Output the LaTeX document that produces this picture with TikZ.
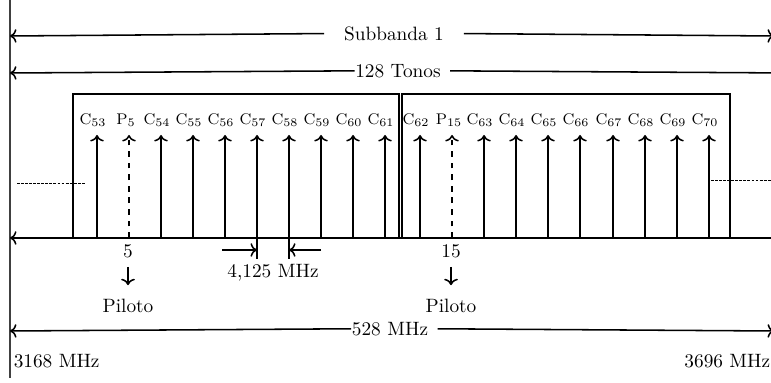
\documentclass[tikz,border=0pt]{standalone}
\usepackage{amsmath}
\usepackage{tikz}
\usetikzlibrary{arrows.meta,calc,positioning}

\begin{document}
\begin{tikzpicture}[x=0.518pt,y=-0.518pt,thick,
  carrier/.style={->},
  pilot/.style={->,dashed},
  lab/.style={font=\footnotesize,inner sep=1pt},
  span/.style={anchor=mid,inner xsep=0pt},
  guide/.style={thin,dash pattern=on 1.5pt off 0.6pt}]
\useasboundingbox (0,0) rectangle (771,383);
\clip (0,0) rectangle (771,383);
% eje vertical
\coordinate (vtop) at (10,0);
\coordinate (vbot) at (10,378);
\draw[line width=1pt,black!75] (vtop) -- (vbot);
% cotas superiores
\node[anchor=mid,inner xsep=10pt] (sub) at (394,36) {Subbanda 1};
\coordinate (subL) at (10,36); \coordinate (subR) at (774,36);
\draw[->] (sub.west) -- (subL);
\draw[->] (sub.east) -- (subR);
\node[span] (tonos) at (398,73) {128 Tonos};
\coordinate (tonL) at (10,73); \coordinate (tonR) at (790,73);
\draw[->] (tonos.west) -- (tonL);
\draw[->] ([xshift=4.5pt]tonos.east) -- (tonR);
% bloques
\draw (73,94) rectangle (399,238);
\draw (402,94) rectangle (730,238);
\coordinate (fL) at (10,238); \coordinate (fR) at (790,238);
\draw[<->] (fL) -- (fR);
% portadoras
\foreach \x/\n in {97/53,161/54,193/55,225/56,257/57,289/58,321/59,353/60,385/61,
  420/62,484/63,516/64,548/65,580/66,613/67,645/68,677/69,709/70}{
  \coordinate (b\n) at (\x,238);
  \coordinate (t\n) at (\x,135);
  \node[lab] (c\n) at (\x-4,120) {C$_{\n}$};
  \draw[carrier] (b\n) -- (t\n);
}
% pilotos
\foreach \x/\n in {129/5,452/15}{
  \coordinate (pb\n) at (\x,238);
  \coordinate (pt\n) at (\x,135);
  \node[lab] (p\n) at (\x-3,120) {P$_{\n}$};
  \draw[pilot] (pb\n) -- (pt\n);
  \node (i\n) at (\x-1,251) {\n};
  \node (pil\n) at (\x-1,306) {Piloto};
  \draw[->,shorten >=3.5pt,shorten <=1pt] (i\n) -- (pil\n);
}
% separacion
\coordinate (e57) at (257,259); \coordinate (e58) at (289,259);
\draw (b57) -- (e57);
\draw (b58) -- (e58);
\coordinate (dl) at (222,250); \coordinate (dr) at (321,250);
\draw[->] (dl) -- (dl -| e57);
\draw[->] (dr) -- (dr -| e58);
\node (delta) at (273,273) {4,125 MHz};
% niveles
\coordinate (gl1) at (17,183); \coordinate (gl2) at (85,183);
\draw[guide] (gl1) -- (gl2);
\coordinate (gr1) at (711,180); \coordinate (gr2) at (790,180);
\draw[guide] (gr1) -- (gr2);
% ancho de banda
\node[span] (bw) at (390,331) {528 MHz};
\coordinate (bwL) at (10,331); \coordinate (bwR) at (774,331);
\draw[->] (bw.west) -- (bwL);
\draw[->] ([xshift=4.5pt]bw.east) -- (bwR);
\node[anchor=west,inner sep=0pt] (f0) at (13,361) {3168 MHz};
\node[anchor=east,inner sep=0pt] (f1) at (771,361) {3696 MHz};
\end{tikzpicture}
\end{document}
